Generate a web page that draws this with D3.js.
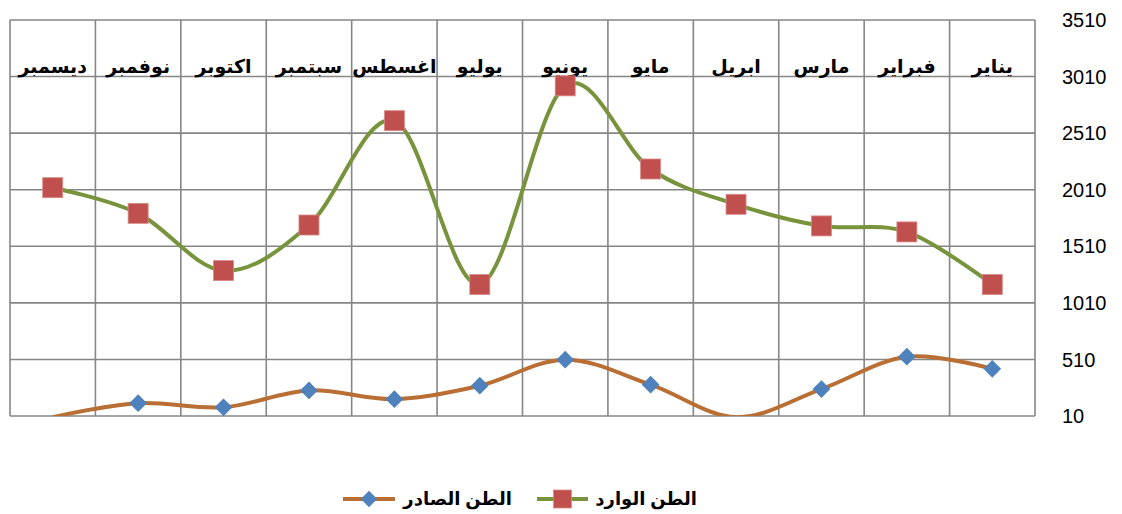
<!DOCTYPE html>
<html>
<head>
<meta charset="utf-8">
<script src="https://cdn.jsdelivr.net/npm/d3@7"></script>
<style>
  body { margin: 0; background: #fff; }
  svg { display: block; font-family: Arial, "Liberation Sans", "DejaVu Sans", sans-serif; }
</style>
</head>
<body>
<div id="chart"></div>
<script>
// months, January first (drawn right to left)
const months = ['يناير', 'فبراير', 'مارس', 'ابريل', 'مايو', 'يونيو', 'يوليو', 'اغسطس', 'سبتمبر', 'اكتوبر', 'نوفمبر', 'ديسمبر'];
const incoming = [1172, 1637, 1690, 1881, 2193, 2928, 1172, 2620, 1698, 1295, 1801, 2028];
const outgoing = [427, 534, 248, 0, 287, 508, 278, 159, 236, 87, 123, 0];
const yTicks = [10, 510, 1010, 1510, 2010, 2510, 3010, 3510];
const seriesNames = ['الطن الوارد', 'الطن الصادر'];

const width = 1122, height = 514;
const plot = { left: 10, right: 1035, top: 20, bottom: 416 };

const svg = d3.select('#chart').append('svg')
    .attr('width', width)
    .attr('height', height);

// categories run from right (Jan) to left (Dec)
const xBand = d3.scaleBand()
    .domain(months)
    .range([plot.right, plot.left]);

const x = d => xBand(d) + xBand.bandwidth() / 2;

const y = d3.scaleLinear()
    .domain([10, 3510])
    .range([plot.bottom, plot.top]);

// horizontal gridlines
svg.append('g')
    .selectAll('line')
    .data(yTicks)
    .enter()
    .append('line')
    .attr('x1', plot.left)
    .attr('x2', plot.right)
    .attr('y1', d => y(d))
    .attr('y2', d => y(d))
    .attr('stroke', '#868686')
    .attr('stroke-width', 1.6);

// vertical gridlines at band edges
const edges = months.map(m => xBand(m)).concat([plot.right]);
svg.append('g')
    .selectAll('line')
    .data(edges)
    .enter()
    .append('line')
    .attr('x1', d => d)
    .attr('x2', d => d)
    .attr('y1', plot.top)
    .attr('y2', plot.bottom)
    .attr('stroke', '#868686')
    .attr('stroke-width', 1.6);

// month labels inside the top row
svg.append('g')
    .selectAll('text')
    .data(months)
    .enter()
    .append('text')
    .attr('x', d => x(d))
    .attr('y', 73)
    .attr('text-anchor', 'middle')
    .style('font-size', '19px')
    .style('font-weight', 'bold')
    .attr('fill', '#000')
    .text(d => d);

// value axis labels on the right
svg.append('g')
    .selectAll('text')
    .data(yTicks)
    .enter()
    .append('text')
    .attr('x', 1062)
    .attr('y', d => y(d))
    .attr('dy', '0.36em')
    .style('font-size', '20px')
    .attr('fill', '#000')
    .text(d => d);

svg.append('clipPath')
    .attr('id', 'plot-clip')
    .append('rect')
    .attr('x', plot.left)
    .attr('y', plot.top)
    .attr('width', plot.right - plot.left)
    .attr('height', plot.bottom - plot.top);

const line = d3.line()
    .x((d, i) => x(months[i]))
    .y(d => y(d))
    .curve(d3.curveCardinal.tension(0));

function drawSeries(values, color) {
    svg.append('path')
        .datum(values)
        .attr('clip-path', 'url(#plot-clip)')
        .attr('fill', 'none')
        .attr('stroke', color)
        .attr('stroke-width', 4)
        .attr('d', line);
}

drawSeries(incoming, '#77933c');
drawSeries(outgoing, '#b96f34');

// markers, hidden when the value is below the axis minimum
const visible = values => values.map((v, i) => ({ v, m: months[i] })).filter(d => d.v >= 10);

svg.append('g')
    .selectAll('rect')
    .data(visible(incoming))
    .enter()
    .append('rect')
    .attr('x', d => x(d.m) - 10)
    .attr('y', d => y(d.v) - 10)
    .attr('width', 20)
    .attr('height', 20)
    .attr('fill', '#c0504d')
    .attr('stroke', '#d98a88')
    .attr('stroke-width', 0.8);

const diamond = d3.symbol().type(d3.symbolDiamond2).size(200);
svg.append('g')
    .selectAll('path')
    .data(visible(outgoing))
    .enter()
    .append('path')
    .attr('transform', d => `translate(${x(d.m)},${y(d.v)})`)
    .attr('d', diamond)
    .attr('fill', '#4f81bd');

// legend
const legendY = 499;
const legend = [
    { name: seriesNames[0], color: '#77933c', marker: 'square', x0: 537, x1: 588, tx: 697 },
    { name: seriesNames[1], color: '#b96f34', marker: 'diamond', x0: 343, x1: 395, tx: 512 }
];

legend.forEach(item => {
    const g = svg.append('g');
    g.append('line')
        .attr('x1', item.x0)
        .attr('x2', item.x1)
        .attr('y1', legendY)
        .attr('y2', legendY)
        .attr('stroke', item.color)
        .attr('stroke-width', 4);
    const cx = (item.x0 + item.x1) / 2;
    if (item.marker === 'square') {
        g.append('rect')
            .attr('x', cx - 9)
            .attr('y', legendY - 9)
            .attr('width', 18)
            .attr('height', 18)
            .attr('fill', '#c0504d')
            .attr('stroke', '#d98a88')
            .attr('stroke-width', 0.8);
    } else {
        g.append('path')
            .attr('transform', `translate(${cx},${legendY})`)
            .attr('d', d3.symbol().type(d3.symbolDiamond2).size(170))
            .attr('fill', '#4f81bd');
    }
    g.append('text')
        .attr('x', item.tx)
        .attr('y', legendY)
        .attr('dy', '0.32em')
        .attr('text-anchor', 'end')
        .style('font-size', '18px')
        .style('font-weight', 'bold')
        .text(item.name);
});
</script>
</body>
</html>
